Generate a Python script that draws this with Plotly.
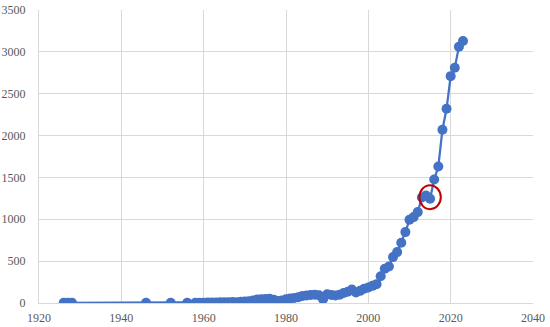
import plotly.graph_objects as go

# publication counts per year
years = [1926, 1927, 1928, 1946, 1952, 1956,
         1958, 1959, 1960, 1961, 1962, 1963, 1964, 1965, 1966, 1967,
         1968, 1969, 1970, 1971, 1972, 1973, 1974, 1975, 1976, 1977,
         1978, 1979, 1980, 1981, 1982, 1983, 1984, 1985, 1986, 1987,
         1988, 1989, 1990, 1991, 1992, 1993, 1994, 1995, 1996, 1997,
         1998, 1999, 2000, 2001, 2002, 2003, 2004, 2005, 2006, 2007,
         2008, 2009, 2010, 2011, 2012, 2013, 2014, 2015, 2016, 2017,
         2018, 2019, 2020, 2021, 2022, 2023]
counts = [2, 2, 2, 2, 2, 2,
          3, 3, 4, 5, 6, 7, 8, 9, 10, 12,
          10, 14, 18, 20, 30, 42, 45, 48, 50, 40,
          25, 30, 45, 55, 60, 70, 85, 90, 95, 100,
          92, 45, 105, 95, 90, 100, 120, 135, 160, 125,
          145, 170, 185, 205, 225, 320, 410, 436, 548, 608,
          720, 847, 995, 1026, 1086, 1260, 1285, 1245, 1475, 1630,
          2070, 2320, 2710, 2810, 3060, 3130]

x_ticks = [1920, 1940, 1960, 1980, 2000, 2020, 2040]
y_ticks = [0, 500, 1000, 1500, 2000, 2500, 3000, 3500]

# highlighted plateau
hl_years = [2013, 2014, 2015]
hl_vals = [counts[years.index(y)] for y in hl_years]
cx = 2015
cy = sum(hl_vals) / len(hl_vals)

blue = '#4472C4'
grid = '#D9D9D9'
tick_font = dict(family='Times New Roman, Liberation Serif, DejaVu Serif, serif',
                 size=12, color='#595959')

fig = go.Figure()
fig.add_trace(go.Scatter(x=years, y=counts, mode='lines+markers',
                         line=dict(color=blue, width=2.25),
                         marker=dict(color=blue, size=10),
                         showlegend=False))

fig.add_shape(type='circle', xref='x', yref='y',
              x0=cx - 2.6, x1=cx + 2.6, y0=cy - 143, y1=cy + 143,
              line=dict(color='#C00000', width=2))

fig.update_xaxes(range=[1920, 2040], tickvals=x_ticks, showgrid=True, gridcolor=grid,
                 gridwidth=1, zeroline=False, showline=True, linecolor=grid,
                 linewidth=1, tickfont=tick_font, ticks='', ticklabelstandoff=4,
                 automargin=False)
fig.update_yaxes(range=[0, 3500], tickvals=y_ticks, showgrid=True, gridcolor=grid,
                 gridwidth=1, zeroline=False, showline=True, linecolor=grid,
                 linewidth=1, tickfont=tick_font, ticks='', ticklabelstandoff=10,
                 automargin=False)

fig.update_layout(template='none', width=550, height=327, autosize=False,
                  margin=dict(l=39, r=17, t=10, b=24),
                  font=dict(family='Times New Roman, Liberation Serif, serif'),
                  plot_bgcolor='white', paper_bgcolor='white',
                  showlegend=False, hovermode='closest')

# drop the default body margin so the chart sits at the page corner
fig.write_html("out.html", config={'displayModeBar': False},
               post_script="document.body.style.margin='0px';")
